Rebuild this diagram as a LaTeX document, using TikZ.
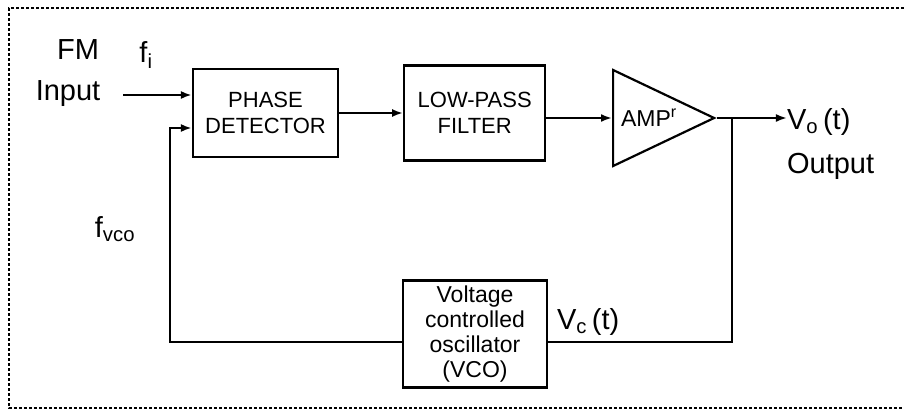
\documentclass[tikz,border=0pt]{standalone}
\usepackage{fontspec}
\setmainfont{Liberation Sans}
\usepackage{tikz}
\usetikzlibrary{arrows.meta,positioning,calc,shapes.geometric}

\begin{document}
\begin{tikzpicture}[
  x=1pt,y=-1pt,line width=2.2pt,node distance=64pt,
  blk/.style={rectangle,draw,align=center,inner sep=2pt,font=\fontsize{22}{26}\selectfont},
  amp/.style={isosceles triangle,isosceles triangle stretches,draw,inner sep=0pt,
    minimum width=96pt,minimum height=101pt,font=\fontsize{23}{26}\selectfont},
  lbl/.style={inner sep=0pt,font=\fontsize{29}{32}\selectfont},
  ar/.style={-{Latex[length=11pt,width=8pt]}},
  border/.style={line width=1.2pt,dash pattern=on 3pt off 2pt}
]
\useasboundingbox (0,0) rectangle (904,412);
\draw[border] (904,8) -- (9,8) -- (9,408) -- (904,408);
% blocks
\node[blk,minimum width=145pt,minimum height=88pt] (pd) at (265.5,113) {PHASE\\DETECTOR};
\node[blk,minimum width=141pt,minimum height=95pt,right=64pt of pd] (lpf) {LOW-PASS\\FILTER};
\node[amp,anchor=west] (amp) at (612,118) {AMP\textsuperscript{r}\hspace{10pt}};
\node[blk,minimum width=144pt,minimum height=107pt,inner sep=1pt,
  font=\fontsize{23}{25}\selectfont] (vco) at (475,334) {Voltage\\controlled\\oscillator\\(VCO)};
% free ends
\coordinate (fm) at (123,95);
\coordinate (fb) at (170,128);
\coordinate (out) at ($(amp.apex)+(70pt,0)$);
\coordinate (tap) at ($(amp.apex)+(15pt,0)$);
\coordinate (vl) at ($(vco.west)+(0,8)$);
\coordinate (vr) at ($(vco.east)+(0,8)$);
% connectors
\draw[ar] (fm) -- (fm -| pd.west);
\draw[ar] (vl) -| (fb) -- (fb -| pd.west);
\draw[ar] (pd.east) -- (pd.east -| lpf.west);
\draw[ar] (amp.west -| lpf.east) -- (amp.west);
\draw[ar] (amp.apex) -- (out);
\draw (tap) |- (vr);
% labels
\node[lbl] (fmlbl) at (78,50) {FM};
\node[lbl] (filbl) at (146,55) {f\textsubscript{i}};
\node[lbl] (inlbl) at (68,94) {Input};
\node[lbl] (fvlbl) at (115,229) {f\textsubscript{vco}};
\node[lbl,anchor=west] (volbl) at (786,122) {V\textsubscript{o}\,(t)};
\node[lbl,anchor=west] (outlbl) at (786,166) {Output};
\node[lbl,anchor=west] (vclbl) at (556,322) {V\textsubscript{c}\,(t)};
\end{tikzpicture}
\end{document}
